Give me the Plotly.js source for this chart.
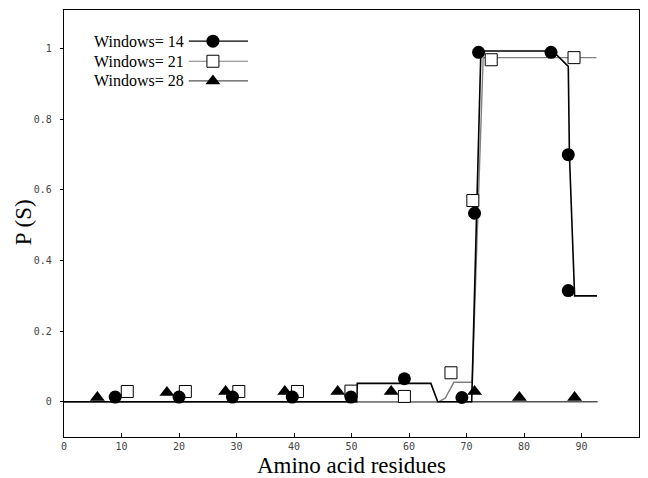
<!DOCTYPE html>
<html>
<head>
<meta charset="utf-8">
<script src="https://cdn.plot.ly/plotly-3.0.1.min.js"></script>
<style>html,body{margin:0;padding:0;background:#fff;}#chart{width:648px;height:478px;}</style>
</head>
<body>
<div id="chart"></div>
<script>
// ---- Data ----
const seriesNames = ["Windows= 14", "Windows= 21", "Windows= 28"];

// Curves (line vertices)
const w14LineX = [0, 50.9, 51, 63.8, 65, 70.9, 72.5, 85, 87.7, 87.9, 88.8, 92.7];
const w14LineY = [0, 0, 0.052, 0.052, 0, 0, 0.994, 0.994, 0.95, 0.70, 0.30, 0.30];
const w21LineX = [0, 65.2, 66.3, 67.8, 71, 72.9, 92.6];
const w21LineY = [0, 0, 0.01, 0.055, 0.055, 0.975, 0.975];
const w28LineX = [0, 92.8];
const w28LineY = [0, 0];

// Markers
const w14X = [8.9, 20, 29.3, 39.7, 49.9, 59.2, 69.2, 71.4, 72.1, 84.7, 87.7, 87.7];
const w14Y = [0.013, 0.013, 0.013, 0.013, 0.013, 0.065, 0.012, 0.534, 0.99, 0.99, 0.70, 0.315];
const w21X = [11, 21.1, 30.4, 40.6, 49.9, 59.2, 67.3, 71.1, 74.3, 88.7];
const w21Y = [0.029, 0.029, 0.029, 0.029, 0.03, 0.015, 0.082, 0.57, 0.969, 0.975];
const w28X = [5.8, 17.9, 28.1, 38.4, 47.6, 56.9, 71.4, 79.2, 88.8];
const w28Y = [0.012, 0.026, 0.029, 0.029, 0.029, 0.029, 0.029, 0.012, 0.012];

const xTicks = [0, 10, 20, 30, 40, 50, 60, 70, 80, 90, 100];
const yTicks = [0, 0.2, 0.4, 0.6, 0.8, 1];
const yTickText = ["0", "0.2", "0.4", "0.6", "0.8", "1"];

// ---- Styles ----
const lineColors = ["#000000", "#808080", "#555555"];
const symbols = ["circle", "square", "triangle-up"];
const markerFill = ["#000000", "#ffffff", "#000000"];
const markerEdge = [0, 1, 0];
const markerSizes = [13, 12, 13];

const traces = [];
const lineXs = [w14LineX, w21LineX, w28LineX];
const lineYs = [w14LineY, w21LineY, w28LineY];
const mXs = [w14X, w21X, w28X];
const mYs = [w14Y, w21Y, w28Y];

// lines (draw 28 first, then 21, then 14)
[2, 1, 0].forEach(i => {
  traces.push({
    x: lineXs[i], y: lineYs[i], type: "scatter", mode: "lines",
    line: {color: lineColors[i], width: i === 0 ? 1.6 : 1.4},
    showlegend: false, hoverinfo: "skip"
  });
});
// markers
[2, 1, 0].forEach(i => {
  traces.push({
    x: mXs[i], y: mYs[i], type: "scatter", mode: "markers",
    marker: {symbol: symbols[i], size: markerSizes[i], color: markerFill[i],
             line: {color: "#000", width: markerEdge[i]}},
    showlegend: false, name: seriesNames[i]
  });
});

// ---- Custom legend (symbol to the right of the text), on overlay axes in paper units ----
const legRowY = [0.927, 0.880, 0.834];
const legLineX0 = 0.217, legLineX1 = 0.320, legMarkX = 0.259;
const annotations = [];
seriesNames.forEach((name, i) => {
  traces.push({
    x: [legLineX0, legLineX1], y: [legRowY[i], legRowY[i]], xaxis: "x2", yaxis: "y2",
    type: "scatter", mode: "lines", line: {color: lineColors[i], width: 1.2},
    showlegend: false, hoverinfo: "skip"
  });
  traces.push({
    x: [legMarkX], y: [legRowY[i]], xaxis: "x2", yaxis: "y2",
    type: "scatter", mode: "markers",
    marker: {symbol: symbols[i], size: markerSizes[i],
             color: markerFill[i], line: {color: "#000", width: markerEdge[i]}},
    showlegend: false, hoverinfo: "skip"
  });
  annotations.push({
    xref: "paper", yref: "paper", x: 0.212, y: legRowY[i], xanchor: "right", yanchor: "middle",
    text: name, showarrow: false,
    font: {family: "Liberation Serif, Times New Roman, serif", size: 16, color: "#000"}
  });
});

// y-axis title placed as a rotated annotation
annotations.push({
  xref: "paper", yref: "paper", x: -0.0713, y: 0.503, xanchor: "center", yanchor: "middle",
  text: "P (S)", textangle: -90, showarrow: false,
  font: {family: "Liberation Serif, Times New Roman, serif", size: 23, color: "#000"}
});

const layout = {
  width: 648, height: 478,
  margin: {l: 64, r: 9, t: 10, b: 41},
  paper_bgcolor: "#fff", plot_bgcolor: "#fff",
  showlegend: false,
  xaxis: {
    range: [0, 100], tickvals: xTicks, ticktext: xTicks.map(String),
    ticks: "inside", ticklen: 4, tickcolor: "#000", tickwidth: 1,
    showgrid: false, zeroline: false, showline: true, linecolor: "#000", linewidth: 1.2, mirror: true,
    tickfont: {family: "DejaVu Sans Mono, monospace", size: 10, color: "#444"},
    title: {text: "Amino acid residues", standoff: 6,
            font: {family: "Liberation Serif, Times New Roman, serif", size: 23, color: "#000"}}
  },
  yaxis: {
    range: [-0.1, 1.11], tickvals: yTicks, ticktext: yTickText,
    ticks: "outside", ticklen: 3, tickcolor: "#000", tickwidth: 1,
    showgrid: false, zeroline: false, showline: true, linecolor: "#000", linewidth: 1.2, mirror: true,
    tickfont: {family: "DejaVu Sans Mono, monospace", size: 10, color: "#444"},
    ticklabelstandoff: 6
  },
  xaxis2: {domain: [0, 1], range: [0, 1], overlaying: "x", anchor: "y2", visible: false, fixedrange: true},
  yaxis2: {domain: [0, 1], range: [0, 1], overlaying: "y", anchor: "x2", visible: false, fixedrange: true},
  annotations: annotations
};

Plotly.newPlot("chart", traces, layout, {displayModeBar: false, staticPlot: true});
</script>
</body>
</html>
